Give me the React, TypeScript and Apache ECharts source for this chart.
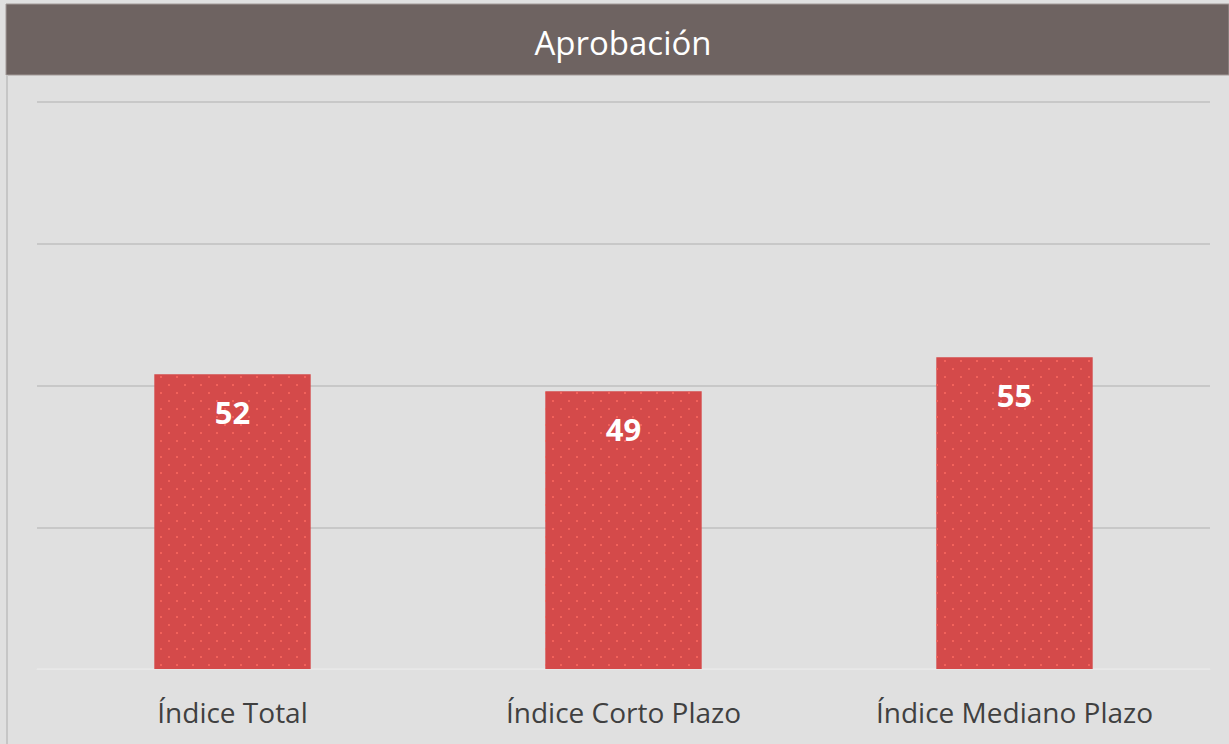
import React, { useEffect, useRef } from "react";
import * as echarts from "echarts";

const title = "Aprobación";
const categories = ["Índice Total", "Índice Corto Plazo", "Índice Mediano Plazo"];
const values = [52, 49, 55];
const yMin = 0;
const yMax = 100;
const yInterval = 25;

export default function App() {
  const ref = useRef<HTMLDivElement>(null);
  useEffect(() => {
    document.body.style.margin = "0";
    const chart = echarts.init(ref.current!, null, { renderer: "svg" });
    chart.setOption({
      animation: false,
      backgroundColor: "#E0E0E0",
      graphic: [
        {
          type: "rect",
          shape: { x: 6, y: 4, width: 1223, height: 71 },
          style: { fill: "#6E6361", stroke: "#A29A98", lineWidth: 1 },
          z: 10,
        },
        {
          type: "text",
          x: 623,
          y: 42,
          style: {
            text: title,
            fill: "#FFFFFF",
            font: "33px 'Open Sans'",
            align: "center",
            verticalAlign: "middle",
          },
          z: 11,
        },
        {
          type: "line",
          shape: { x1: 7, y1: 75, x2: 7, y2: 744 },
          style: { stroke: "#C6C6C6", lineWidth: 2 },
          z: 10,
        },
      ],
      grid: { left: 37, right: 19, top: 102, bottom: 75 },
      xAxis: {
        type: "category",
        data: categories,
        axisLine: { show: true, lineStyle: { color: "#E8E8E8", width: 1 } },
        axisTick: { show: false },
        axisLabel: {
          color: "#404040",
          fontSize: 28,
          fontFamily: "Open Sans",
          margin: 29,
        },
      },
      yAxis: {
        type: "value",
        min: yMin,
        max: yMax,
        interval: yInterval,
        axisLabel: { show: false },
        axisLine: { show: false },
        axisTick: { show: false },
        splitLine: {
          lineStyle: {
            color: ["#E8E8E8", "#C0C0C0", "#C0C0C0", "#C0C0C0", "#C0C0C0"],
            width: 1.5,
          },
        },
      },
      series: [
        {
          type: "bar",
          data: values,
          barWidth: "40%",
          itemStyle: {
            color: "#D44A4A",
            decal: {
              symbol: "rect",
              symbolSize: 1,
              color: "#F2615A",
              dashArrayX: [[2, 14], [0, 8, 2, 6]],
              dashArrayY: [2, 6],
              rotation: 0,
            },
          },
          label: {
            show: true,
            position: "insideTop",
            distance: 22,
            color: "#FFFFFF",
            fontSize: 31,
            fontWeight: "bold",
            fontFamily: "Open Sans",
          },
        },
      ],
    });
    return () => chart.dispose();
  }, []);
  return <div ref={ref} style={{ width: 1229, height: 744 }} />;
}
